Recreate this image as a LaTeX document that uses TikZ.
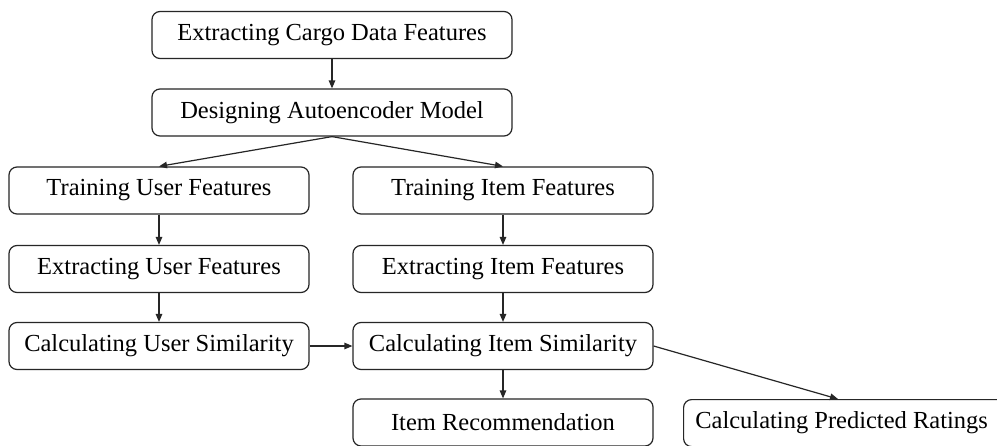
\documentclass[tikz,border=0pt]{standalone}
\usepackage{fontspec}
\setmainfont{Liberation Serif}
\usetikzlibrary{arrows.meta,calc}
\begin{document}
\begin{tikzpicture}[x=1pt,y=-1pt,
  box/.style={draw=black!85,line width=1.2pt,rounded corners=8pt,minimum height=47pt,inner sep=0pt,
    font=\fontsize{24.5}{28}\selectfont,text=black},
  wbox/.style={box,minimum width=300pt},
  arr/.style={draw=black!85,line width=1.2pt,-{Triangle[length=8pt,width=6.5pt]}}]
\useasboundingbox (0,0) rectangle (997,445);
\clip (0,0) rectangle (997,445);
\fill[white] (0,0) rectangle (997,445);
\node[box,minimum width=360pt] (n1) at (332,35) {Extracting Cargo Data Features};
\node[box,minimum width=360pt] (n2) at (332,112.5) {Designing Autoencoder Model};
\node[wbox] (n3) at (159,190.5) {Training User Features};
\node[wbox] (n4) at (503,190.5) {Training Item Features};
\node[wbox] (n5) at (159,269) {Extracting User Features};
\node[wbox] (n6) at (503,269) {Extracting Item Features};
\node[wbox] (n7) at (159,346) {Calculating User Similarity};
\node[wbox] (n8) at (503,346) {Calculating Item Similarity};
\node[wbox] (n9) at (503,422.5) {Item Recommendation};
\node[box,minimum width=340pt,anchor=north west] (n10) at (683,399) {\hspace*{-24pt}Calculating Predicted Ratings};
\coordinate (t10) at ($(n10.north west)+(155,0)$);
\draw[arr] (n1) -- (n2);
\draw[arr] (n2.south) -- (n3.north);
\draw[arr] (n2.south) -- (n4.north);
\draw[arr] (n3) -- (n5);
\draw[arr] (n5) -- (n7);
\draw[arr] (n4) -- (n6);
\draw[arr] (n6) -- (n8);
\draw[arr] (n7) -- (n8);
\draw[arr] (n8) -- (n9);
\draw[arr] (n8.east) -- (t10);
\end{tikzpicture}
\end{document}
